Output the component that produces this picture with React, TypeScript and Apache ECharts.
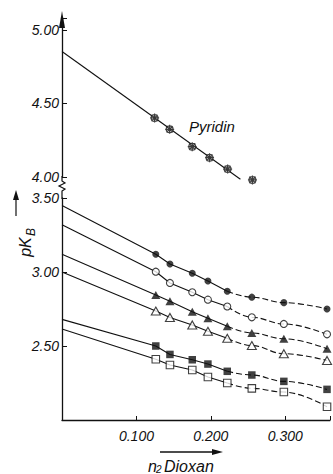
import React, { useEffect, useRef } from "react";
import * as echarts from "echarts";

// ---- data ----
const dioxanX = [0.126, 0.145, 0.175, 0.196, 0.222, 0.255, 0.298, 0.356];
const pyridinX = [0.123, 0.143, 0.173, 0.196, 0.22, 0.253];
const pyridinY = [4.401, 4.324, 4.206, 4.131, 4.054, 3.98];
const pyridinLineX = [0, 0.237];
const pyridinLineY = [4.852, 3.985];

const filledCircle = [3.12, 3.054, 2.991, 2.939, 2.87, 2.83, 2.793, 2.75];
const openCircle = [3.002, 2.926, 2.863, 2.813, 2.767, 2.694, 2.649, 2.579];
const filledTriangle = [2.845, 2.802, 2.732, 2.687, 2.633, 2.588, 2.549, 2.481];
const openTriangle = [2.736, 2.693, 2.642, 2.599, 2.552, 2.503, 2.448, 2.402];
const filledSquare = [2.5, 2.443, 2.407, 2.378, 2.329, 2.304, 2.261, 2.207];
const openSquare = [2.41, 2.372, 2.338, 2.291, 2.25, 2.214, 2.189, 2.09];
// fitted line values at n2 = 0
const lineStarts = [3.45, 3.32, 3.12, 3.0, 2.68, 2.615];
const solidCount = 5; // markers covered by the solid part

const upperTicks = [4.0, 4.5, 5.0];
const lowerTicks = [2.5, 3.0, 3.5];
const xTicks = [0.1, 0.2, 0.3];

const FONT = '"Liberation Sans",Arial,sans-serif';
const INK = "#111";

const seriesDefs = [
  { name: "filledCircle", values: filledCircle, symbol: "circle", size: 7, filled: true },
  { name: "openCircle", values: openCircle, symbol: "circle", size: 7, filled: false },
  { name: "filledTriangle", values: filledTriangle, symbol: "triangle", size: [9, 8], filled: true },
  { name: "openTriangle", values: openTriangle, symbol: "triangle", size: [9, 8], filled: false },
  { name: "filledSquare", values: filledSquare, symbol: "rect", size: 7.5, filled: true },
  { name: "openSquare", values: openSquare, symbol: "rect", size: 7.5, filled: false },
];

const PYR_SYMBOL =
  "path://M5,1.2 A3.8,3.8 0 1,1 5,8.8 A3.8,3.8 0 1,1 5,1.2 Z M1.5,1.5 L8.5,8.5 M8.5,1.5 L1.5,8.5 M5,0 L5,10 M0,5 L10,5";

function near(v: number, list: number[]) {
  return list.some((t) => Math.abs(t - v) < 1e-6);
}

export default function App() {
  const ref = useRef<HTMLDivElement>(null);
  useEffect(() => {
    if (!ref.current) return;
    const chart = echarts.init(ref.current, null, { renderer: "svg" });

    const labelStyle = {
      fontFamily: FONT,
      fontStyle: "italic",
      fontSize: 14,
      color: INK,
    };
    const axisLineStyle = { color: INK, width: 1.3 };

    const series: any[] = [];
    series.push({
      type: "line",
      xAxisIndex: 0,
      yAxisIndex: 0,
      data: pyridinLineX.map((x, i) => [x, pyridinLineY[i]]),
      symbol: "none",
      clip: false,
      lineStyle: { color: INK, width: 1.1 },
      z: 2,
    });
    series.push({
      type: "scatter",
      xAxisIndex: 0,
      yAxisIndex: 0,
      data: pyridinX.map((x, i) => [x, pyridinY[i]]),
      symbol: PYR_SYMBOL,
      symbolSize: 9,
      clip: false,
      itemStyle: { color: "#ddd", borderColor: INK, borderWidth: 1.2 },
      z: 3,
    });

    seriesDefs.forEach((d, k) => {
      const pts = dioxanX.map((x, i) => [x, d.values[i]]);
      series.push({
        type: "line",
        xAxisIndex: 1,
        yAxisIndex: 1,
        data: [[0, lineStarts[k]], ...pts.slice(0, solidCount)],
        symbol: "none",
        smooth: false,
        lineStyle: { color: INK, width: 1.1 },
        z: 2,
      });
      series.push({
        type: "line",
        xAxisIndex: 1,
        yAxisIndex: 1,
        data: pts.slice(solidCount - 1),
        symbol: "none",
        smooth: 0.4,
        smoothMonotone: "x",
        lineStyle: { color: INK, width: 1.1, type: [6, 3] },
        z: 2,
      });
      series.push({
        type: "scatter",
        xAxisIndex: 1,
        yAxisIndex: 1,
        data: pts,
        symbol: d.symbol,
        symbolSize: d.size,
        itemStyle: d.filled
          ? { color: INK }
          : { color: "#fff", borderColor: INK, borderWidth: 1.1 },
        z: 3,
      });
    });

    chart.setOption({
      animation: false,
      backgroundColor: "#fff",
      grid: [
        { left: 62, top: 18, width: 271, height: 159 },
        { left: 62, top: 198, width: 271, height: 222 },
      ],
      xAxis: [
        { gridIndex: 0, type: "value", min: 0, max: 0.36, show: false },
        {
          gridIndex: 1,
          type: "value",
          min: 0,
          max: 0.36,
          interval: 0.1,
          axisLine: { show: true, onZero: false, lineStyle: axisLineStyle },
          axisTick: { show: true, inside: true, length: 4, lineStyle: { color: INK } },
          axisLabel: {
            ...labelStyle,
            margin: 9,
            showMinLabel: true,
            showMaxLabel: true,
            formatter: (v: number) => (near(v, xTicks) ? v.toFixed(3) : ""),
          },
          splitLine: { show: false },
        },
      ],
      yAxis: [
        {
          gridIndex: 0,
          type: "value",
          min: 4.0,
          max: 5.08,
          interval: 0.5,
          axisLine: { show: true, onZero: false, lineStyle: axisLineStyle },
          axisTick: { show: true, inside: true, length: 5, lineStyle: { color: INK } },
          axisLabel: {
            ...labelStyle,
            margin: 3,
            formatter: (v: number) => (near(v, upperTicks) ? v.toFixed(2) : ""),
          },
          splitLine: { show: false },
        },
        {
          gridIndex: 1,
          type: "value",
          min: 2.0,
          max: 3.5,
          interval: 0.5,
          axisLine: { show: true, onZero: false, lineStyle: axisLineStyle },
          axisTick: { show: true, inside: true, length: 5, lineStyle: { color: INK } },
          axisLabel: {
            ...labelStyle,
            margin: 3,
            formatter: (v: number) => (near(v, lowerTicks) ? v.toFixed(2) : ""),
          },
          splitLine: { show: false },
        },
      ],
      graphic: [
        // y axis arrow head
        {
          type: "polygon",
          shape: { points: [[59, 28], [62, 11], [65, 28]] },
          style: { fill: INK },
        },
        // axis break zigzag
        {
          type: "polyline",
          shape: {
            points: [
              [62, 176],
              [62, 181],
              [65, 183],
              [59, 186],
              [65, 189],
              [62, 191],
              [62, 199],
            ],
          },
          style: { stroke: INK, lineWidth: 1.2, fill: "none" },
        },
        {
          type: "text",
          left: 189,
          top: 119,
          style: { text: "Pyridin", font: `italic 15px ${FONT}`, fill: INK },
        },
        // y axis title  pK_B with arrow
        {
          type: "text",
          x: 25,
          y: 247,
          rotation: Math.PI / 2,
          style: {
            text: "pK",
            font: `italic 16px ${FONT}`,
            fill: INK,
            align: "center",
            verticalAlign: "middle",
          },
        },
        {
          type: "text",
          x: 31,
          y: 232,
          rotation: Math.PI / 2,
          style: {
            text: "B",
            font: `italic 12px ${FONT}`,
            fill: INK,
            align: "center",
            verticalAlign: "middle",
          },
        },
        {
          type: "line",
          shape: { x1: 16, y1: 216, x2: 16, y2: 198 },
          style: { stroke: INK, lineWidth: 1.2 },
        },
        {
          type: "polygon",
          shape: { points: [[13, 200], [16, 190], [19, 200]] },
          style: { fill: INK },
        },
        // x axis title  n2 Dioxan with arrow
        {
          type: "line",
          shape: { x1: 160, y1: 452, x2: 214, y2: 452 },
          style: { stroke: INK, lineWidth: 1.3 },
        },
        {
          type: "polygon",
          shape: { points: [[212, 449], [223, 452], [212, 455]] },
          style: { fill: INK },
        },
        {
          type: "text",
          left: 148,
          top: 458,
          style: { text: "n", font: `italic 16px ${FONT}`, fill: INK },
        },
        {
          type: "text",
          left: 156,
          top: 464,
          style: { text: "2", font: `italic 10px ${FONT}`, fill: INK },
        },
        {
          type: "text",
          left: 164,
          top: 458,
          style: { text: "Dioxan", font: `italic 16px ${FONT}`, fill: INK },
        },
      ],
      series,
    });
    return () => chart.dispose();
  }, []);
  return (
    <div
      ref={ref}
      style={{ position: "fixed", left: 0, top: 0, width: 333, height: 474, background: "#fff" }}
    />
  );
}
